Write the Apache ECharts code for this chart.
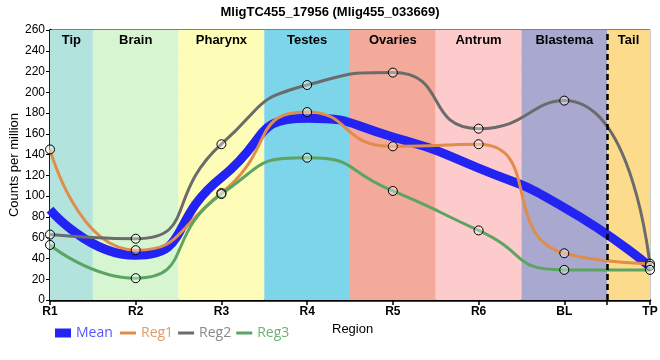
<!DOCTYPE html>
<html><head><meta charset="utf-8">
<script src="https://cdn.jsdelivr.net/npm/echarts@6/dist/echarts.min.js"></script>
<style>html,body{margin:0;padding:0;background:#fff}#c{width:660px;height:360px}</style>
</head><body><div id="c"></div>
<script>
const categories = ['R1','R2','R3','R4','R5','R6','BL','TP'];
const meanVals = [87, 43, 118, 175, 157, 127, 89, 32];
const reg1Vals = [145, 48, 103, 181, 148, 150, 45, 35];
const reg2Vals = [63, 59, 150, 207, 219, 165, 192, 33];
const reg3Vals = [53, 21, 102, 137, 105, 67, 29, 29];
const bandNames = ['Tip','Brain','Pharynx','Testes','Ovaries','Antrum','Blastema','Tail'];
const bandStarts = [0, 0.5, 1.5, 2.5, 3.5, 4.5, 5.5, 6.5];
const bandEnds = [0.5, 1.5, 2.5, 3.5, 4.5, 5.5, 6.5, 7];
const bandColors = ['#b3e3dd','#d8f5d2','#fdfdb8','#7dd5ea','#f4aa9b','#fdcbcb','#a9a8cf','#fddb8d'];
const yTicks = {min: 0, max: 260, step: 20};

const toXY = arr => arr.map((v, i) => [i, v]);
const ff = 'Liberation Sans, Arial, sans-serif';
const markerStyle = {color: 'rgba(255,255,255,0.35)', borderColor: '#000', borderWidth: 1};

const chart = echarts.init(document.getElementById('c'));
chart.setOption({
  animation: false,
  textStyle: {fontFamily: ff},
  title: {text: 'MligTC455_17956 (Mlig455_033669)', left: 'center', top: 1,
    textStyle: {fontSize: 13, fontWeight: 'bold', color: '#000', fontFamily: ff}},
  grid: {left: 50, right: 10, top: 30, bottom: 60, show: true, borderColor: '#000', borderWidth: 1,
    containLabel: false, outerBoundsMode: 'none'},
  xAxis: {
    type: 'value', min: 0, max: 7, interval: 1,
    axisLine: {lineStyle: {color: '#000', width: 2.5}},
    axisTick: {show: true, length: 5, lineStyle: {color: '#000', width: 1.5},
      customValues: [0,1,2,3,4,5,6,6.5,7]},
    axisLabel: {color: '#000', fontSize: 12, fontWeight: 'bold', margin: 6,
      formatter: v => categories[Math.round(v)] || ''},
    splitLine: {show: true, lineStyle: {color: '#c8c8c8', width: 1}}
  },
  yAxis: {
    type: 'value', min: yTicks.min, max: yTicks.max, interval: yTicks.step,
    name: 'Counts per million', nameLocation: 'middle', nameGap: 29, nameMoveOverlap: false,
    nameTextStyle: {fontSize: 13, color: '#000'},
    axisLine: {show: true, lineStyle: {color: '#000', width: 2.5}},
    axisTick: {show: true, length: 4, lineStyle: {color: '#000'}},
    axisLabel: {color: '#000', fontSize: 12, margin: 5},
    splitLine: {show: true, lineStyle: {color: '#c8c8c8', width: 1}}
  },
  legend: [
    {data: [{name: 'Mean', textStyle: {color: '#5555ff'}, itemStyle: {color: '#2323f2', borderWidth: 0}}],
      left: 50, top: 321, icon: 'rect', itemWidth: 16, itemHeight: 9, itemGap: 10,
      textStyle: {fontSize: 14, fontFamily: 'Open Sans, sans-serif'}},
    {data: [{name: 'Reg1', textStyle: {color: '#e39a66'}, itemStyle: {color: '#e08d4c', borderWidth: 0}},
            {name: 'Reg2', textStyle: {color: '#888888'}, itemStyle: {color: '#6b6b6b', borderWidth: 0}},
            {name: 'Reg3', textStyle: {color: '#6eb074'}, itemStyle: {color: '#5ba462', borderWidth: 0}}],
      left: 115, top: 321, icon: 'rect', itemWidth: 16, itemHeight: 3, itemGap: 5,
      textStyle: {fontSize: 14, fontFamily: 'Open Sans, sans-serif'}}
  ],
  graphic: [{type: 'text', left: 332, top: 323,
    style: {text: 'Region', fontSize: 13, fill: '#000', fontFamily: ff}}],
  series: [
    {name: 'bands', type: 'line', data: [], silent: true,
      markArea: {silent: true,
        data: bandNames.map((n, i) => [
          {xAxis: bandStarts[i], yAxis: yTicks.max, name: n, itemStyle: {color: bandColors[i]}},
          {xAxis: bandEnds[i], yAxis: yTicks.min}]),
        label: {show: true, position: 'insideTop', distance: 4, color: '#000',
          fontSize: 13, fontWeight: 'bold', fontFamily: ff}},
      markLine: {silent: true, symbol: 'none', label: {show: false},
        lineStyle: {color: '#000', type: [6, 4], width: 2.5},
        data: [{xAxis: bandStarts[7]}]},
      z: 1
    },
    {name: 'Reg1', type: 'line', data: toXY(reg1Vals), smooth: 0.6, color: '#e08d4c',
      lineStyle: {width: 3, color: '#e08d4c'}, symbol: 'circle', symbolSize: 9,
      itemStyle: markerStyle, z: 3},
    {name: 'Reg2', type: 'line', data: toXY(reg2Vals), smooth: 0.6, color: '#6b6b6b',
      lineStyle: {width: 3, color: '#6b6b6b'}, symbol: 'circle', symbolSize: 9,
      itemStyle: markerStyle, z: 3},
    {name: 'Reg3', type: 'line', data: toXY(reg3Vals), smooth: 0.6, color: '#5ba462',
      lineStyle: {width: 3, color: '#5ba462'}, symbol: 'circle', symbolSize: 9,
      itemStyle: markerStyle, z: 3},
    {name: 'Mean', type: 'line', data: toXY(meanVals), smooth: 0.6, color: '#2323f2',
      lineStyle: {width: 9, color: '#2323f2'}, showSymbol: false, symbol: 'none', z: 2}
  ]
});
</script></body></html>
